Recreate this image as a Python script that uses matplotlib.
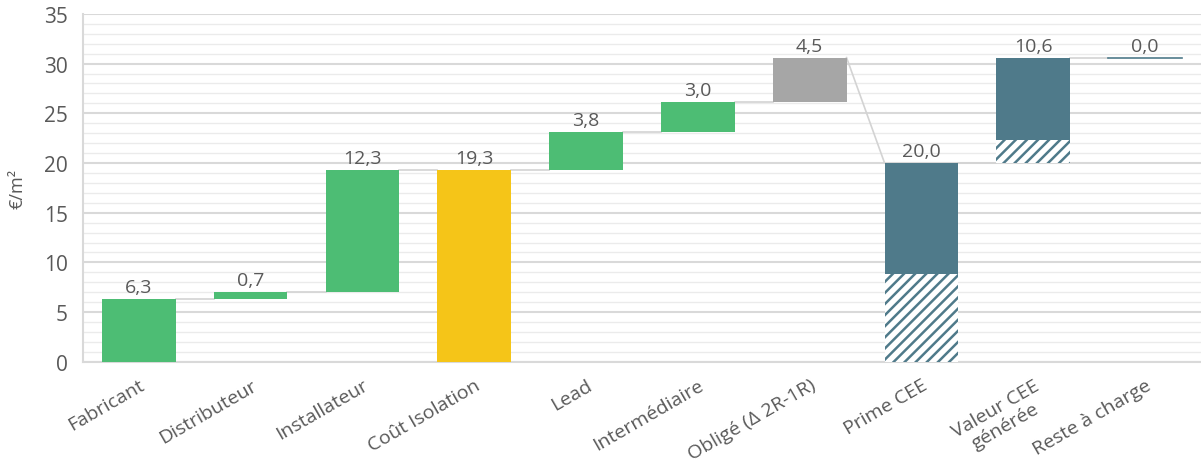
import matplotlib.pyplot as plt
import numpy as np

plt.rcParams['font.family'] = ['Open Sans', 'DejaVu Sans']
plt.rcParams['hatch.linewidth'] = 1.8

# waterfall data
categories = ['Fabricant', 'Distributeur', 'Installateur', 'Coût Isolation', 'Lead',
              'Intermédiaire', 'Obligé (Δ 2R-1R)', 'Prime CEE', 'Valeur CEE\ngénérée',
              'Reste à charge']
values = [6.3, 0.7, 12.3, 19.3, 3.8, 3.0, 4.5, 20.0, 10.6, 0.0]
bottoms = [0.0, 6.3, 7.0, 0.0, 19.3, 23.1, 26.1, 0.0, 20.0, 30.6]
kinds = ['up', 'up', 'up', 'total', 'up', 'up', 'oblige', 'cee', 'cee', 'rest']
value_labels = ['6,3', '0,7', '12,3', '19,3', '3,8', '3,0', '4,5', '20,0', '10,6', '0,0']
# hatched (lower) part of the CEE bars
hatched = {7: 8.8, 8: 2.3}

colors = {'up': '#4dbd74', 'total': '#f5c518', 'oblige': '#a6a6a6',
          'cee': '#4f7a8a', 'rest': '#4f7a8a'}
text_color = '#595959'

fig = plt.figure(figsize=(12.01, 4.64), dpi=100)
ax = fig.add_axes([0.069, 0.218, 0.931, 0.75])

x = np.arange(len(categories))
w = 0.66
tops = [b + v for b, v in zip(bottoms, values)]

for i, k in enumerate(kinds):
    c = colors[k]
    if k == 'rest':
        ax.plot([x[i] - w / 2, x[i] + w / 2], [tops[i], tops[i]], color=c, lw=1.2, zorder=3)
    elif i in hatched:
        h = hatched[i]
        ax.bar(x[i], h, w, bottom=bottoms[i], color='white', edgecolor=c, hatch='///',
               linewidth=0, zorder=3)
        ax.bar(x[i], values[i] - h, w, bottom=bottoms[i] + h, color=c, zorder=3)
    else:
        ax.bar(x[i], values[i], w, bottom=bottoms[i], color=c, zorder=3)
    ax.text(x[i], tops[i] + 0.3, value_labels[i], ha='center', va='bottom',
            fontsize=14, color=text_color, zorder=4)

# connectors
starts = [t if k == 'total' or k == 'cee' and i == 7 else b
          for i, (b, t, k) in enumerate(zip(bottoms, tops, kinds))]
for i in range(len(categories) - 1):
    ax.plot([x[i] + w / 2, x[i + 1] - w / 2], [tops[i], starts[i + 1]],
            color='#d3d3d3', lw=1.2, zorder=2)

ax.set_xlim(-0.5, len(categories) - 0.5)
ax.set_ylim(0, 35)
ax.set_yticks(np.arange(0, 36, 5))
ax.set_yticks(np.arange(0, 36, 1), minor=True)
ax.grid(axis='y', which='major', color='#d9d9d9', lw=1.5, zorder=0)
ax.grid(axis='y', which='minor', color='#ebebeb', lw=1.0, zorder=0)
ax.set_axisbelow(True)

ax.set_xticks(x)
ax.set_xticklabels(categories, rotation=30, ha='right', rotation_mode='anchor',
                   fontsize=14, color=text_color, ma='center')
ax.tick_params(axis='both', which='both', length=0)
ax.tick_params(axis='y', labelsize=15, labelcolor=text_color, pad=11)
ax.tick_params(axis='x', pad=10)

for s in ['top', 'right']:
    ax.spines[s].set_visible(False)
ax.spines['left'].set_color('#d9d9d9')
ax.spines['bottom'].set_color('#d9d9d9')
ax.spines['left'].set_linewidth(1.5)
ax.spines['bottom'].set_linewidth(1.5)

ax.set_ylabel('€/m²', fontsize=13, color=text_color, labelpad=12)

fig.savefig('out.png', dpi=100)
